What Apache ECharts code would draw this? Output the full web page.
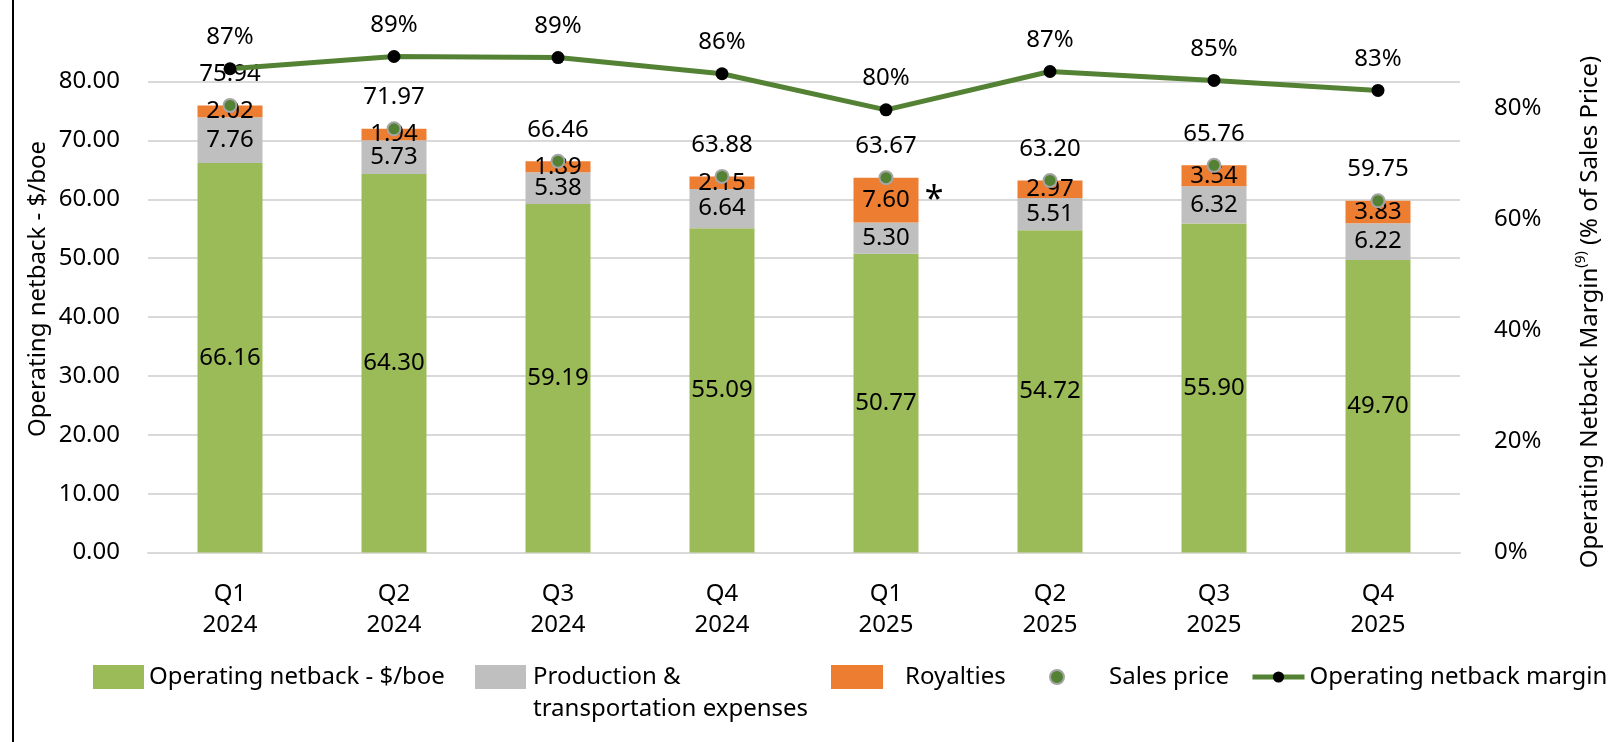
<!DOCTYPE html>
<html>
<head>
<meta charset="utf-8">
<title>Operating netback</title>
<script src="https://cdn.jsdelivr.net/npm/echarts@6/dist/echarts.min.js"></script>
<style>
    html, body { margin: 0; padding: 0; background: #fff; }
    #chart { width: 1613px; height: 742px; }
</style>
</head>
<body>
<div id="chart"></div>
<script>
    // quarters
    const categories = ['Q1\n2024', 'Q2\n2024', 'Q3\n2024', 'Q4\n2024', 'Q1\n2025', 'Q2\n2025', 'Q3\n2025', 'Q4\n2025']
    // $/boe
    const netback = [66.16, 64.30, 59.19, 55.09, 50.77, 54.72, 55.90, 49.70]
    const production = [7.76, 5.73, 5.38, 6.64, 5.30, 5.51, 6.32, 6.22]
    const royalties = [2.02, 1.94, 1.89, 2.15, 7.60, 2.97, 3.54, 3.83]
    const salesPrice = [75.94, 71.97, 66.46, 63.88, 63.67, 63.20, 65.76, 59.75]
    // % of sales price
    const margin = [87.1, 89.3, 89.1, 86.2, 79.7, 86.6, 85.0, 83.2]
    // the royalty bar flagged with a star
    const starIndex = 4

    const font = 'Noto Sans'
    const txt = { fontFamily: font, fontSize: 24, color: '#000' }

    let barLabel = {
        show: true,
        position: 'inside',
        fontFamily: font,
        fontSize: 24,
        color: '#000',
        formatter: p => p.value.toFixed(2)
    }

    let legendBase = {
        padding: 0,
        itemGap: 0,
        textStyle: Object.assign({ lineHeight: 32 }, txt)
    }

    let option = {
        animation: false,
        grid: { left: 148, right: 153, top: 81.5, bottom: 189.4 },
        legend: [
            Object.assign({}, legendBase, {
                data: [{ name: 'Operating netback - $/boe', icon: 'rect' }], left: 93, top: 661, itemWidth: 51, itemHeight: 24
            }),
            Object.assign({}, legendBase, {
                // blank first line keeps "Production &" level with the swatch
                data: [{ name: 'Production & transportation expenses', icon: 'rect' }], left: 475, top: 629, itemWidth: 51, itemHeight: 24,
                formatter: () => ' \nProduction &\ntransportation expenses',
                textStyle: Object.assign({ lineHeight: 32, padding: [0, 0, 0, 2] }, txt)
            }),
            Object.assign({}, legendBase, {
                data: [{ name: 'Royalties', icon: 'rect' }], left: 831, top: 661, itemWidth: 52, itemHeight: 24,
                textStyle: Object.assign({ lineHeight: 32, padding: [0, 0, 0, 17] }, txt)
            }),
            Object.assign({}, legendBase, {
                data: ['Sales price'], left: 1049, top: 661, itemWidth: 14, itemHeight: 14,
                textStyle: Object.assign({ lineHeight: 32, padding: [0, 0, 0, 40] }, txt)
            }),
            Object.assign({}, legendBase, {
                data: ['Operating netback margin'], left: 1250, top: 661, itemWidth: 52, itemHeight: 14,
                lineStyle: { width: 5 }
            })
        ],
        xAxis: {
            type: 'category',
            data: categories,
            axisTick: { show: false },
            axisLine: { lineStyle: { color: '#D9D9D9', width: 2 } },
            axisLabel: Object.assign({ margin: 26, lineHeight: 31 }, txt)
        },
        yAxis: [{
            type: 'value',
            min: 0,
            max: 80,
            interval: 10,
            axisLabel: Object.assign({ margin: 28, formatter: v => v.toFixed(2) }, txt),
            splitLine: { lineStyle: { color: '#D9D9D9', width: 2 } }
        }, {
            type: 'value',
            min: 0,
            max: 84.8,
            interval: 20,
            axisLabel: Object.assign({ margin: 34, showMaxLabel: false, formatter: '{value}%' }, txt),
            splitLine: { show: false }
        }],
        graphic: [{
            type: 'line',
            shape: { x1: 13, y1: 0, x2: 13, y2: 742 },
            style: { stroke: '#000', lineWidth: 2 }
        }, {
            type: 'text',
            x: 38,
            y: 289,
            rotation: Math.PI / 2,
            style: {
                text: 'Operating netback - $/boe',
                font: '24px "Noto Sans"',
                fill: '#000',
                align: 'center',
                verticalAlign: 'middle'
            }
        }, {
            type: 'text',
            x: 1590,
            y: 312,
            rotation: Math.PI / 2,
            style: {
                text: '{a|Operating Netback Margin}{s|(9)}{a| (% of Sales Price)}',
                fill: '#000',
                align: 'center',
                verticalAlign: 'middle',
                rich: {
                    a: { fontFamily: font, fontSize: 24, lineHeight: 32, fill: '#000' },
                    s: { fontFamily: font, fontSize: 14, lineHeight: 32, verticalAlign: 'top', fill: '#000' }
                }
            }
        }],
        series: [{
            name: 'Operating netback - $/boe',
            type: 'bar',
            stack: 'cost',
            barWidth: 65,
            itemStyle: { color: '#9BBB59' },
            label: barLabel,
            data: netback
        }, {
            name: 'Production & transportation expenses',
            type: 'bar',
            stack: 'cost',
            itemStyle: { color: '#BFBFBF' },
            label: barLabel,
            data: production
        }, {
            name: 'Royalties',
            type: 'bar',
            stack: 'cost',
            itemStyle: { color: '#ED7D31' },
            label: barLabel,
            data: royalties,
            markPoint: {
                symbolSize: 0,
                label: { show: true, formatter: '*', offset: [48, 0], fontFamily: font, fontSize: 34, color: '#000' },
                data: [{ coord: [starIndex, netback[starIndex] + production[starIndex] + royalties[starIndex] / 2] }]
            }
        }, {
            name: 'Sales price',
            type: 'scatter',
            symbol: 'circle',
            symbolSize: 13,
            itemStyle: { color: '#548235', borderColor: '#A5A5A5', borderWidth: 2, opacity: 1 },
            label: {
                show: true,
                position: 'top',
                distance: 12,
                fontFamily: font,
                fontSize: 24,
                color: '#000',
                formatter: p => p.value.toFixed(2)
            },
            z: 3,
            data: salesPrice
        }, {
            name: 'Operating netback margin',
            type: 'line',
            yAxisIndex: 1,
            clip: false,
            symbol: 'circle',
            symbolSize: 13,
            lineStyle: { color: '#548235', width: 5 },
            itemStyle: { color: '#000', borderWidth: 0 },
            label: {
                show: true,
                position: 'top',
                distance: 13,
                fontFamily: font,
                fontSize: 24,
                color: '#000',
                formatter: p => Math.round(p.value) + '%'
            },
            z: 4,
            data: margin
        }]
    }

    let chart = echarts.init(document.getElementById('chart'))
    chart.setOption(option)
</script>
</body>
</html>
